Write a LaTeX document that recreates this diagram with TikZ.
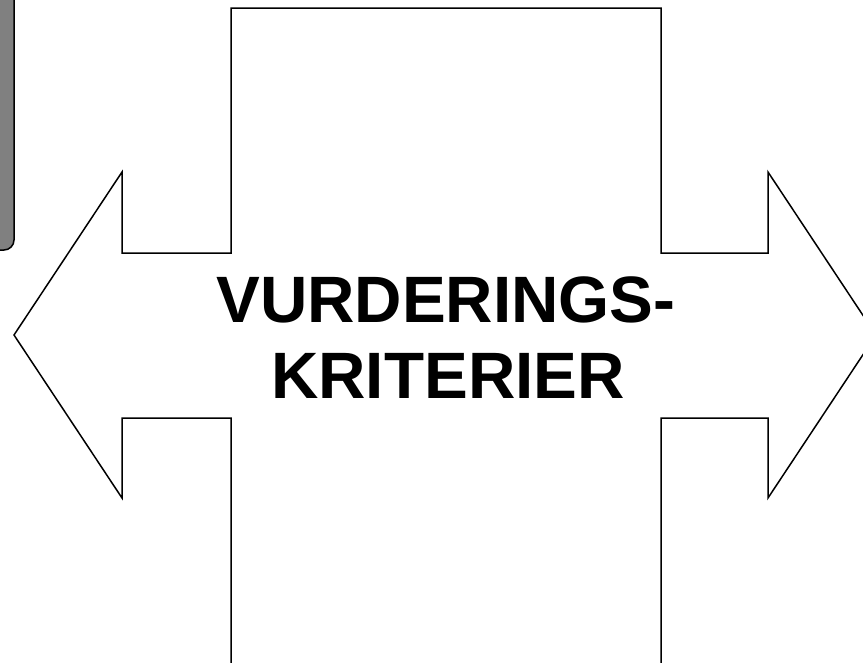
\documentclass[tikz,border=0pt]{standalone}
\usepackage{fontspec}
\setmainfont{Liberation Sans}
\begin{document}
\begin{tikzpicture}[x=1pt,y=-1pt,
  outline/.style={draw=black,line width=1.5pt,line join=miter},
  title/.style={font=\fontsize{65.6}{76}\selectfont\bfseries,inner sep=0pt,anchor=base}]
\useasboundingbox (0,0) rectangle (863,662);
\clip (0,0) rectangle (863,662);
\fill[white] (0,0) rectangle (863,662);
% gray side panel
\draw[outline,fill=black!50,rounded corners=10pt] (-30,-30) rectangle (14,250);
% double arrow cross shape
\draw[outline,fill=white] (14,335) -- (122,172) -- (122,253) -- (231,253) -- (231,8) -- (661,8)
  -- (661,253) -- (768,253) -- (768,172) -- (876,335) -- (768,498) -- (768,418) -- (661,418)
  -- (661,700) -- (231,700) -- (231,418) -- (122,418) -- (122,498) -- cycle;
\node[title] (l1) at (446,322) {VURDERINGS-};
\node[title] (l2) at (448,398) {KRITERIER};
\end{tikzpicture}
\end{document}
